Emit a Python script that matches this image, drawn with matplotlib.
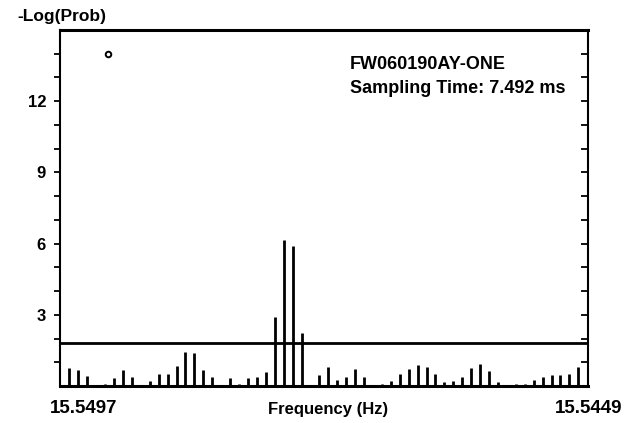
import numpy as np
import matplotlib
matplotlib.use('Agg')
import matplotlib.pyplot as plt

plt.rcParams['font.family'] = ['Liberation Sans', 'DejaVu Sans']
plt.rcParams['font.weight'] = 'bold'

# -log(prob) for each frequency bin, left (15.5497 Hz) to right (15.5449 Hz)
power = [0.77, 0.68, 0.43, 0.03, 0.07, 0.35, 0.68, 0.39, 0.03, 0.21,
         0.49, 0.49, 0.84, 1.45, 1.38, 0.68, 0.39, 0.03, 0.35, 0.10,
         0.34, 0.39, 0.58, 2.92, 6.16, 5.92, 2.22, 0.03, 0.46, 0.81,
         0.25, 0.39, 0.70, 0.39, 0.03, 0.07, 0.21, 0.49, 0.70, 0.89,
         0.81, 0.49, 0.18, 0.20, 0.39, 0.74, 0.91, 0.63, 0.18, 0.03,
         0.07, 0.10, 0.25, 0.39, 0.46, 0.46, 0.49, 0.81]
bins = np.arange(len(power))
threshold = 1.8
# isolated point near the top left
dot_bin, dot_val = 4.3, 14.0
freq_left, freq_right = '15.5497', '15.5449'
title_lines = ['FW060190AY-ONE', 'Sampling Time: 7.492 ms']

fig = plt.figure(figsize=(6.25, 4.23), dpi=100)
ax = fig.add_axes([0.096, 0.0875, 0.845, 0.8415])

ax.vlines(bins, 0, power, color='black', linewidth=2)
ax.axhline(threshold, color='black', linewidth=2)
ax.plot([dot_bin], [dot_val], 'o', markersize=4, markerfacecolor='white',
        markeredgecolor='black', markeredgewidth=1.4)

ax.set_xlim(-1.05, 58.1)
ax.set_ylim(0, 15)

for side in ['top', 'bottom']:
    ax.spines[side].set_linewidth(2.2)
for side in ['left', 'right']:
    ax.spines[side].set_linewidth(1.5)

ax.set_xticks([])
ax.set_yticks([3, 6, 9, 12])
ax.set_yticks(np.arange(1, 15), minor=True)
ax.tick_params(axis='y', which='both', direction='out', length=4, width=1.3,
               right=True, labelsize=12, pad=6)
ax.tick_params(axis='y', which='minor', labelleft=False)
# right-side ticks point inward
for t in ax.yaxis.get_major_ticks() + ax.yaxis.get_minor_ticks():
    t.tick2line.set_marker(matplotlib.lines.TICKLEFT)
    t.tick2line.set_markersize(5)

ax.text(-0.081, 1.038, '-Log(Prob)', transform=ax.transAxes, ha='left',
        va='center', fontsize=12.5, fontweight='bold')
ax.text(-0.02, -0.063, freq_left, transform=ax.transAxes, ha='left',
        va='center', fontsize=13.5, fontweight='bold')
ax.text(1.064, -0.063, freq_right, transform=ax.transAxes, ha='right',
        va='center', fontsize=13.5, fontweight='bold')
ax.text(0.507, -0.065, 'Frequency (Hz)', transform=ax.transAxes, ha='center',
        va='center', fontsize=12, fontweight='bold')
ax.text(0.549, 0.902, title_lines[0], transform=ax.transAxes, ha='left',
        va='center', fontsize=13, fontweight='bold')
ax.text(0.549, 0.837, title_lines[1], transform=ax.transAxes, ha='left',
        va='center', fontsize=13, fontweight='bold')

fig.savefig('out.png', dpi=100)
